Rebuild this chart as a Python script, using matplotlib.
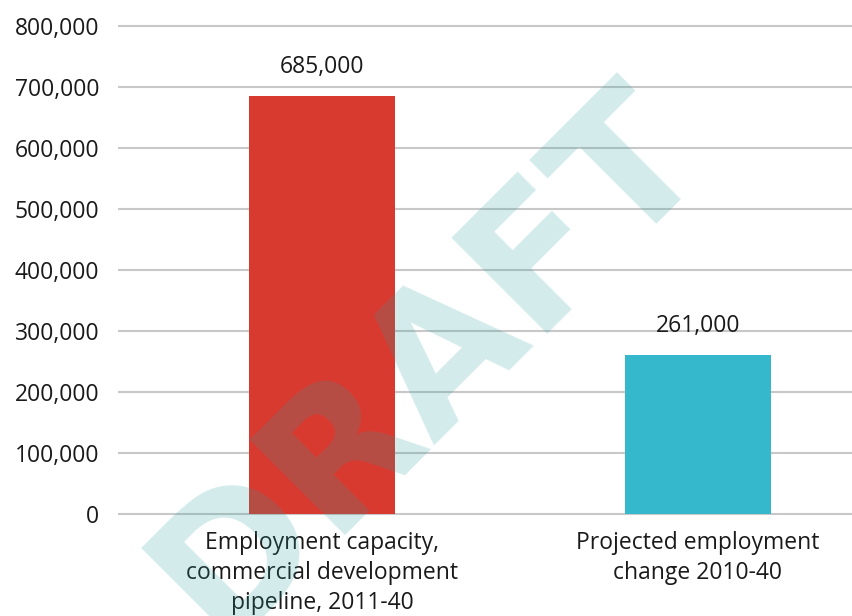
import matplotlib
matplotlib.use("Agg")
from matplotlib import pyplot as plt
from matplotlib.ticker import FuncFormatter

categories = ["Employment capacity,\ncommercial development\npipeline, 2011-40",
              "Projected employment\nchange 2010-40"]
values = [685000, 261000]
bar_colors = ["#d93a30", "#36b8cc"]
y_ticks = [0, 100000, 200000, 300000, 400000, 500000, 600000, 700000, 800000]

plt.rcParams["font.family"] = ["Open Sans", "DejaVu Sans"]
text_color = "#1a1a1a"

fig = plt.figure(figsize=(8.52, 6.16), dpi=100)
ax = fig.add_axes([0.1385, 0.160, 1 - 0.1385, 0.9675 - 0.160])

x = list(range(len(categories)))
ax.bar(x, values, width=0.388, color=bar_colors, zorder=2)

for xi, v in zip(x, values):
    ax.annotate(f"{v:,}", (xi, v), xytext=(0, 16.5), textcoords="offset points",
                ha="center", va="baseline", fontsize=16.5, color=text_color)

ax.set_xlim(-0.5426, 1.4096)
ax.set_ylim(-5000, 810000)
ax.set_yticks(y_ticks)
ax.yaxis.set_major_formatter(FuncFormatter(lambda v, p: f"{int(v):,}"))
ax.set_xticks(x)
ax.set_xticklabels(categories, fontsize=16.5, color=text_color, linespacing=1.33)

ax.grid(axis="y", color="#c8c8c8", linewidth=1.5, zorder=0)
ax.set_axisbelow(True)
for s in ax.spines.values():
    s.set_visible(False)
ax.tick_params(axis="both", length=0, labelsize=16.5, labelcolor=text_color)
ax.tick_params(axis="y", pad=13.5)
ax.tick_params(axis="x", pad=10)

# DRAFT watermark
fig.text(0.5452, 0.3515, "DRAFT", rotation=45, rotation_mode="anchor",
         ha="center", va="baseline", fontsize=133, fontweight="bold",
         family="DejaVu Sans",
         color=(40 / 255, 155 / 255, 160 / 255), alpha=0.2, zorder=10)

fig.savefig("out.png", dpi=100)
